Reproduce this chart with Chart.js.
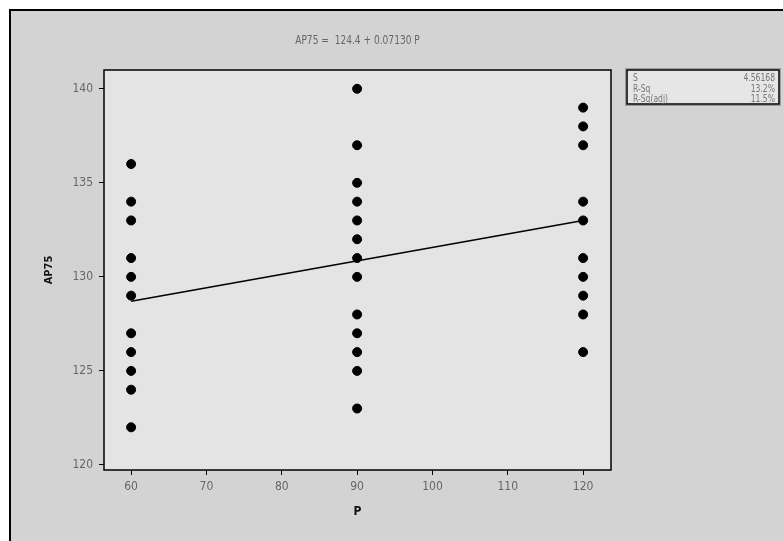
<!DOCTYPE html>
<html lang="en">
<head>
    <meta charset="UTF-8">
    <title>AP75 vs P</title>
    <script src="https://cdn.jsdelivr.net/npm/chart.js"></script>
    <style>
        body {
            margin: 0;
            background: #ffffff;
        }
        #wrap {
            width: 783px;
            height: 541px;
        }
    </style>
</head>
<body>
    <div id="wrap"><canvas id="chart" width="783" height="541"></canvas></div>
    <script>
        // data
        var pLevels = [60, 90, 120];
        var ap75At60 = [136, 134, 133, 131, 130, 129, 127, 126, 125, 124, 122];
        var ap75At90 = [140, 137, 135, 134, 133, 132, 131, 130, 128, 127, 126, 125, 123];
        var ap75At120 = [139, 138, 137, 134, 133, 131, 130, 129, 128, 126];
        var fitP = [60, 120];
        var fitAP75 = [128.7, 133.0];
        var xTicks = [60, 70, 80, 90, 100, 110, 120];
        var yTicks = [120, 125, 130, 135, 140];
        var titleText = 'AP75 =  124.4 + 0.07130 P';
        var statNames = ['S', 'R-Sq', 'R-Sq(adj)'];
        var statValues = ['4.56168', '13.2%', '11.5%'];

        var FONT = '"Liberation Sans Narrow", "DejaVu Sans Condensed", "Liberation Sans", sans-serif';

        var points = [];
        [ap75At60, ap75At90, ap75At120].forEach(function (col, i) {
            col.forEach(function (v) {
                points.push({ x: pLevels[i], y: v });
            });
        });
        var fitLine = fitP.map(function (p, i) { return { x: p, y: fitAP75[i] }; });

        // narrow text: squeeze horizontally around the anchor point
        function narrowText(ctx, text, x, y, sx) {
            ctx.save();
            ctx.translate(x, y);
            ctx.scale(sx, 1);
            ctx.fillText(text, 0, 0);
            ctx.restore();
        }

        // frame, plot background, title and the stats box
        var decor = {
            id: 'decor',
            beforeDraw: function (chart) {
                var ctx = chart.ctx;
                var a = chart.chartArea;
                ctx.save();
                ctx.fillStyle = '#d3d3d3';
                ctx.fillRect(10, 10, 783, 541);
                ctx.strokeStyle = '#000';
                ctx.lineWidth = 2;
                ctx.beginPath();
                ctx.moveTo(10, 541);
                ctx.lineTo(10, 10);
                ctx.lineTo(783, 10);
                ctx.stroke();
                ctx.fillStyle = '#e4e4e4';
                ctx.fillRect(a.left, a.top, a.right - a.left, a.bottom - a.top);
                ctx.restore();
            },
            afterDraw: function (chart) {
                var ctx = chart.ctx;
                var a = chart.chartArea;
                ctx.save();
                ctx.strokeStyle = '#000';
                ctx.lineWidth = 1.5;
                ctx.strokeRect(a.left, a.top, a.right - a.left, a.bottom - a.top);

                ctx.fillStyle = '#666';
                ctx.font = '12px ' + FONT;
                ctx.textAlign = 'center';
                ctx.textBaseline = 'middle';
                narrowText(ctx, titleText, (a.left + a.right) / 2, 41, 0.84);

                // stats box
                ctx.fillStyle = '#e6e6e6';
                ctx.fillRect(627, 70, 152, 34);
                ctx.strokeStyle = '#999';
                ctx.lineWidth = 1;
                ctx.strokeRect(625.5, 68.5, 155, 37);
                ctx.strokeStyle = '#000';
                ctx.lineWidth = 1.5;
                ctx.strokeRect(627, 70, 152, 34);
                ctx.font = '10px ' + FONT;
                ctx.fillStyle = '#777';
                statNames.forEach(function (name, i) {
                    var y = 78.5 + i * 10.5;
                    ctx.textAlign = 'left';
                    narrowText(ctx, name, 633, y, 0.85);
                    ctx.textAlign = 'right';
                    narrowText(ctx, statValues[i], 775, y, 0.85);
                });
                ctx.restore();
            }
        };

        new Chart(document.getElementById('chart'), {
            type: 'scatter',
            data: {
                datasets: [
                    {
                        label: 'AP75',
                        data: points,
                        backgroundColor: '#000',
                        borderColor: '#000',
                        pointRadius: 4.5,
                        pointHoverRadius: 4.5
                    },
                    {
                        label: 'Fit',
                        type: 'line',
                        data: fitLine,
                        borderColor: '#000',
                        borderWidth: 1.5,
                        pointRadius: 0,
                        fill: false
                    }
                ]
            },
            options: {
                responsive: false,
                animation: false,
                layout: {
                    padding: { left: 40, right: 172, top: 70, bottom: 0 }
                },
                plugins: {
                    legend: { display: false },
                    tooltip: { enabled: false }
                },
                scales: {
                    x: {
                        type: 'linear',
                        min: 56.4,
                        max: 123.7,
                        afterBuildTicks: function (axis) {
                            axis.ticks = xTicks.map(function (v) { return { value: v }; });
                        },
                        afterFit: function (axis) { axis.height = 71; },
                        grid: { drawOnChartArea: false, tickLength: 5, color: '#000', lineWidth: 1 },
                        border: { display: false },
                        ticks: { color: '#666', padding: 5, font: { family: FONT, size: 12 } },
                        title: {
                            display: true,
                            text: 'P',
                            color: '#111',
                            font: { family: FONT, size: 12, weight: 'bold' },
                            padding: { top: 0, bottom: 22 }
                        }
                    },
                    y: {
                        min: 119.73,
                        max: 141.0,
                        afterBuildTicks: function (axis) {
                            axis.ticks = yTicks.map(function (v) { return { value: v }; });
                        },
                        afterFit: function (axis) { axis.width = 64; },
                        grid: { drawOnChartArea: false, tickLength: 5, color: '#000', lineWidth: 1 },
                        border: { display: false },
                        ticks: { color: '#666', padding: 6, font: { family: FONT, size: 12 } },
                        title: {
                            display: true,
                            text: 'AP75',
                            color: '#111',
                            font: { family: FONT, size: 11, weight: 'bold' },
                            padding: { top: 3, bottom: 0 }
                        }
                    }
                }
            },
            plugins: [decor]
        });
    </script>
</body>
</html>
